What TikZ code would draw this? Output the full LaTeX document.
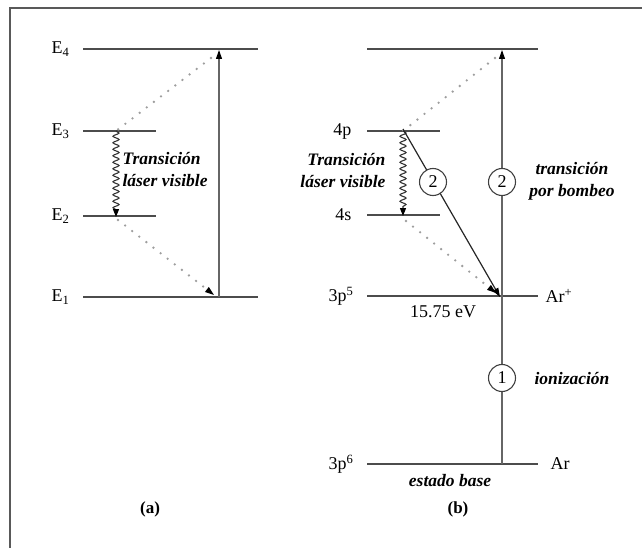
\documentclass[tikz,border=0pt]{standalone}
\usepackage{fontspec}
\setmainfont{Liberation Serif}
\usetikzlibrary{arrows.meta,decorations.pathmorphing}

\begin{document}
\begin{tikzpicture}[x=1pt,y=-1pt,
    lvl/.style={line width=1.5pt, black!70},
    pump/.style={line width=1.1pt, black!60, -{Triangle[length=9pt,width=6pt,black]}},
    relax/.style={line width=2.6pt, black!38, line cap=round, dash pattern=on 0pt off 9pt},
    relaxtip/.style={relax, -{Triangle[length=9pt,width=6pt,black,line width=1pt]}},
    laser/.style={line width=1.1pt, black!80, decorate,
      decoration={snake, amplitude=3pt, segment length=6.5pt, post length=7pt},
      -{Triangle[length=8pt,width=6pt,black]}},
    elab/.style={anchor=east, font=\fontsize{18}{20}\selectfont},
    rlab/.style={anchor=west, font=\fontsize{18}{20}\selectfont},
    note/.style={font=\fontsize{17.5}{22}\selectfont\bfseries\itshape},
    step num/.style={circle, draw=black!75, fill=white, line width=1.1pt,
      minimum size=27pt, inner sep=0pt, font=\fontsize{18}{20}\selectfont}]
  \useasboundingbox (0,0) rectangle (642,548);
  % frame (top and left only)
  \draw[line width=2pt, black!65] (9.5,548) -- (9.5,8.5) -- (642,8.5);

  % (a) four-level scheme
  \coordinate (a4l) at (83,49);  \coordinate (a4r) at (258,49);
  \coordinate (a3l) at (83,131); \coordinate (a3r) at (156,131);
  \coordinate (a2l) at (83,216); \coordinate (a2r) at (156,216);
  \coordinate (a1l) at (83,297); \coordinate (a1r) at (258,297);
  \draw[lvl] (a4l) -- (a4r);
  \draw[lvl] (a3l) -- (a3r);
  \draw[lvl] (a2l) -- (a2r);
  \draw[lvl] (a1l) -- (a1r);
  \node[elab] (E4) at ([xshift=-10pt]a4l) {E\textsubscript{4}};
  \node[elab] (E3) at ([xshift=-10pt]a3l) {E\textsubscript{3}};
  \node[elab] (E2) at ([xshift=-10pt]a2l) {E\textsubscript{2}};
  \node[elab] (E1) at ([xshift=-10pt]a1l) {E\textsubscript{1}};
  \coordinate (ap1) at (219,297); \coordinate (ap4) at (219,50);
  \coordinate (ad4) at (211,58);  \coordinate (ad3) at (116,131);
  \coordinate (ad2) at (118,220); \coordinate (ad1) at (214,295);
  \draw[pump] (ap1) -- (ap4);
  \draw[relax] (ad4) -- (ad3);
  \draw[laser] (ad3) -- ([yshift=-1pt]116,216);
  \draw[relaxtip] (ad2) -- (ad1);
  \node[note, anchor=west, align=left] (alaser) at (119,170) {Transición\\láser visible};
  \node[font=\fontsize{17}{19}\selectfont\bfseries] (capa) at (150,509) {(a)};

  % (b) argon ion laser
  \coordinate (b4l) at (367,49);  \coordinate (b4r) at (538,49);
  \coordinate (bpl) at (367,131); \coordinate (bpr) at (440,131);
  \coordinate (bsl) at (367,215); \coordinate (bsr) at (440,215);
  \coordinate (bil) at (367,296); \coordinate (bir) at (538,296);
  \coordinate (bgl) at (367,464); \coordinate (bgr) at (538,464);
  \draw[lvl] (b4l) -- (b4r);
  \draw[lvl] (bpl) -- (bpr);
  \draw[lvl] (bsl) -- (bsr);
  \draw[lvl] (bil) -- (bir);
  \draw[lvl] (bgl) -- (bgr);
  \node[elab] (L4p) at ([xshift=-12pt]bpl) {4p};
  \node[elab] (L4s) at ([xshift=-12pt]bsl) {4s};
  \node[elab] (L3p5) at ([xshift=-10pt]bil) {3p\textsuperscript{5}};
  \node[elab] (L3p6) at ([xshift=-10pt]bgl) {3p\textsuperscript{6}};
  \node[rlab] (Arp) at ([xshift=4pt]bir) {Ar\textsuperscript{+}};
  \node[rlab] (Ar) at ([xshift=9pt]bgr) {Ar};
  \node[font=\fontsize{18}{20}\selectfont] (eV) at (443,312) {15.75 eV};
  \coordinate (bg) at (502,464); \coordinate (bi) at (502,296); \coordinate (bt) at (502,50);
  \draw[line width=1.1pt, black!60] (bg) -- (bi);
  \draw[pump] (bi) -- (bt);
  \coordinate (bd4) at (495,58);  \coordinate (bdp) at (403,131);
  \coordinate (bds) at (406,221); \coordinate (bdi) at (496,293);
  \draw[relax] (bd4) -- (bdp);
  \draw[laser] (bdp) -- ([yshift=-1pt]403,215);
  \draw[relaxtip] (bds) -- (bdi);
  \draw[line width=1.2pt, black!85, -{Triangle[length=9pt,width=6pt,black]}] ([yshift=2pt]bdp) -- ([xshift=-2pt,yshift=-1pt]bi);
  \node[step num] (n2a) at (433,182) {2};
  \node[step num] (n2b) at (502,182) {2};
  \node[step num] (n1) at (502,378) {1};
  \node[note, align=center] (bomb) at (572,181) {transición\\por bombeo};
  \node[note] (ion) at (572,379) {ionización};
  \node[note, anchor=east, align=right] (blaser) at (389,171) {Transición\\láser visible};
  \node[note] (base) at (450,481) {estado base};
  \node[font=\fontsize{17}{19}\selectfont\bfseries] (capb) at (458,509) {(b)};
\end{tikzpicture}
\end{document}
